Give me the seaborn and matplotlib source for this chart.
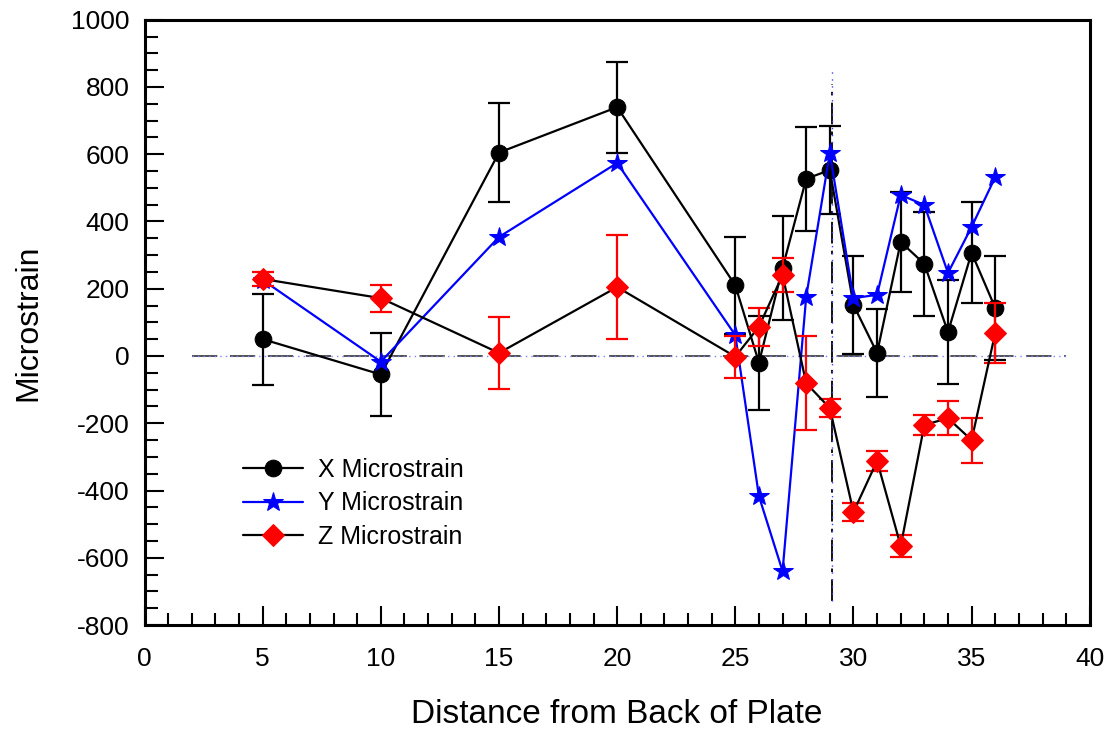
import numpy as np
import seaborn as sns
import matplotlib.pyplot as plt
from matplotlib.ticker import MultipleLocator


# ======================================
# DATA
# ======================================

distance = [5, 10, 15, 20, 25, 26, 27, 28, 29, 30, 31, 32, 33, 34, 35, 36]

x_strain = [50, -55, 605, 740, 210, -20, 262, 527, 553, 152, 9, 339, 274, 71, 307, 143]
x_err = [135, 122, 147, 135, 145, 140, 155, 155, 130, 145, 130, 150, 155, 155, 150, 155]

y_strain = [226, -17, 354, 574, 62, -417, -640, 176, 604, 172, 182, 479, 449, 247, 384, 532]

z_strain = [229, 172, 9, 205, -2, 87, 241, -81, -155, -464, -312, -565, -205, -185, -250, 69]
z_err = [22, 40, 108, 155, 62, 57, 50, 140, 27, 28, 30, 32, 30, 50, 67, 90]

# reference lines
zero_line_x = [2, 39]
plate_x = 29.1
plate_y = [-730, 850]


# ======================================
# STYLE
# ======================================

sns.set_style("ticks")

plt.rcParams["font.family"] = ["Liberation Sans", "DejaVu Sans"]
plt.rcParams["axes.unicode_minus"] = False
plt.rcParams["text.color"] = "black"
plt.rcParams["axes.labelcolor"] = "black"
plt.rcParams["xtick.color"] = "black"
plt.rcParams["ytick.color"] = "black"


fig = plt.figure(figsize=(11.12, 7.31), dpi=100)

ax = fig.add_axes([0.130, 0.145, 0.850, 0.828])


# ======================================
# REFERENCE LINES
# ======================================

ax.plot(zero_line_x, [0, 0], color="#444444", linewidth=1.3,
        dashes=(14, 7), zorder=1)
ax.plot(zero_line_x, [0, 0], color="#8080ff", linewidth=1.0,
        linestyle=(0, (1, 3)), zorder=1)

ax.plot([plate_x, plate_x], [plate_y[0], 810], color="black",
        linewidth=1.3, linestyle=(0, (12, 4, 2, 4)), zorder=1)
ax.plot([plate_x, plate_x], plate_y, color="#4040ff",
        linewidth=1.0, linestyle=(0, (1, 4)), zorder=1)


# ======================================
# X MICROSTRAIN
# ======================================

ax.errorbar(distance, x_strain, yerr=x_err, fmt="none",
            ecolor="black", elinewidth=1.6, capsize=8, capthick=1.6)

sns.lineplot(x=distance, y=x_strain, ax=ax, color="black",
             marker="o", markersize=12, markeredgecolor="black",
             linewidth=1.6, label="X Microstrain")


# ======================================
# Y MICROSTRAIN
# ======================================

sns.lineplot(x=distance, y=y_strain, ax=ax, color="blue",
             marker="*", markersize=15, markeredgecolor="blue",
             linewidth=1.6, label="Y Microstrain")


# ======================================
# Z MICROSTRAIN
# ======================================

ax.errorbar(distance, z_strain, yerr=z_err, fmt="none",
            ecolor="red", elinewidth=1.6, capsize=8, capthick=1.6)

sns.lineplot(x=distance, y=z_strain, ax=ax, color="black",
             marker="D", markersize=11, markerfacecolor="red",
             markeredgecolor="red", linewidth=1.6, label="Z Microstrain")


# ======================================
# AXES
# ======================================

ax.set_xlim(0, 40)
ax.set_ylim(-800, 1000)

ax.xaxis.set_major_locator(MultipleLocator(5))
ax.xaxis.set_minor_locator(MultipleLocator(1))
ax.yaxis.set_major_locator(MultipleLocator(200))
ax.yaxis.set_minor_locator(MultipleLocator(50))

ax.tick_params(which="both", direction="in", top=False, right=False,
               width=1.5, labelsize=19, colors="black")
ax.tick_params(axis="x", pad=16)
ax.tick_params(axis="y", pad=11)
ax.tick_params(which="major", length=14)
ax.tick_params(which="minor", length=9)

for spine in ax.spines.values():
    spine.set_linewidth(2.2)
    spine.set_color("black")

ax.set_xlabel("Distance from Back of Plate", fontsize=24, labelpad=20)
ax.set_ylabel("Microstrain", fontsize=23, labelpad=20)


# ======================================
# LEGEND
# ======================================

ax.legend(loc="center left", bbox_to_anchor=(0.104, 0.201),
          frameon=False, fontsize=18, handlelength=2.4,
          handletextpad=0.6, borderpad=0, borderaxespad=0,
          labelspacing=0.38)


fig.savefig("out.png", dpi=100)
